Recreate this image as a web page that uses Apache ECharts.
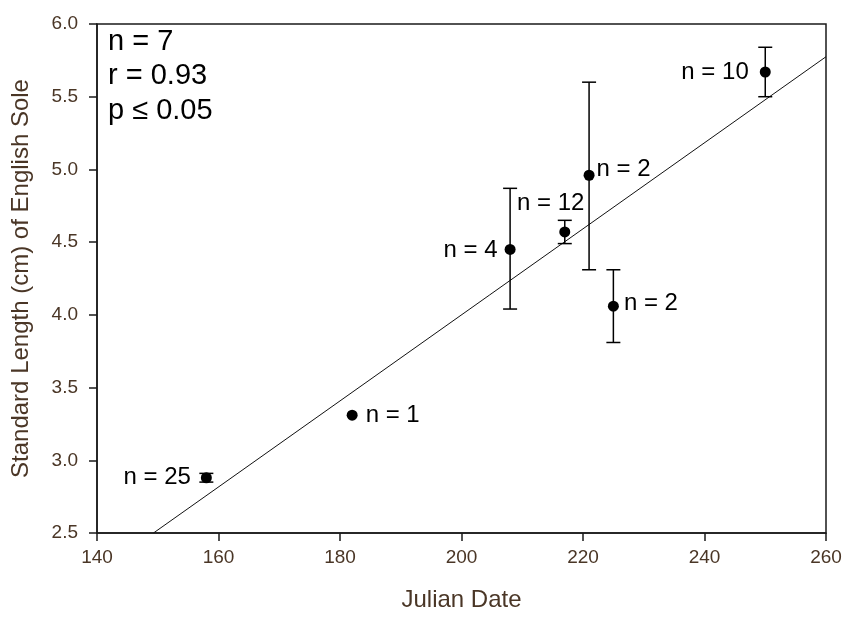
<!DOCTYPE html>
<html>
<head>
<meta charset="utf-8">
<script src="https://cdn.jsdelivr.net/npm/echarts@6/dist/echarts.min.js"></script>
<style>
  html, body { margin: 0; padding: 0; background: #fff; }
  #chart { width: 846px; height: 617px; }
</style>
</head>
<body>
<div id="chart"></div>
<script>
// ---- data ----
const julianDates = [158, 182, 208, 217, 221, 225, 250];
const meanLength  = [2.88, 3.31, 4.45, 4.57, 4.96, 4.06, 5.67];
const errLow      = [2.85, 3.31, 4.04, 4.49, 4.31, 3.81, 5.50];
const errHigh     = [2.91, 3.31, 4.87, 4.65, 5.60, 4.31, 5.84];
const sampleLabels = ['n = 25', 'n = 1', 'n = 4', 'n = 12', 'n = 2', 'n = 2', 'n = 10'];
const fitX = [149.3, 260];
const fitY = [2.5, 5.775];
const xTicks = [140, 160, 180, 200, 220, 240, 260];
const yTicks = [2.5, 3.0, 3.5, 4.0, 4.5, 5.0, 5.5, 6.0];
const statsLines = ['n = 7', 'r = 0.93', 'p \u2264 0.05'];

// ---- label placement (layout, not data) ----
const labelLayout = [
  { position: 'left',  distance: 10, offset: [0, 0] },
  { position: 'right', distance: 8,  offset: [0, 0] },
  { position: 'left',  distance: 7,  offset: [0, 1] },
  { position: 'top',   distance: 5,  offset: [-14, -6] },
  { position: 'right', distance: 2,  offset: [0, -6] },
  { position: 'right', distance: 5,  offset: [0, -3] },
  { position: 'left',  distance: 11, offset: [0, 0] }
];

const FONT = 'Arial, "Liberation Sans", sans-serif';
const AXIS_TEXT = '#4a3626';

const chart = echarts.init(document.getElementById('chart'), null, { renderer: 'canvas' });

const scatterData = julianDates.map((d, i) => ({
  value: [d, meanLength[i]],
  label: {
    show: true,
    formatter: sampleLabels[i],
    position: labelLayout[i].position,
    distance: labelLayout[i].distance,
    offset: labelLayout[i].offset,
    color: '#000',
    opacity: 1,
    fontSize: 24,
    fontFamily: FONT
  }
}));

const errorData = julianDates.map((d, i) => [d, errLow[i], errHigh[i]]);

const option = {
  animation: false,
  backgroundColor: '#fff',
  grid: {
    left: 97, right: 20, top: 24, bottom: 80,
    show: true, borderColor: '#1a1a1a', borderWidth: 1.5, backgroundColor: 'transparent'
  },
  xAxis: {
    type: 'value',
    min: xTicks[0], max: xTicks[xTicks.length - 1], interval: 20,
    name: 'Julian Date',
    nameLocation: 'middle',
    nameGap: 55,
    nameTextStyle: { color: AXIS_TEXT, fontSize: 24, fontFamily: FONT },
    axisLine: { show: true, onZero: false, lineStyle: { color: '#1a1a1a', width: 1.5 } },
    axisTick: { show: true, inside: false, length: 8, lineStyle: { color: '#1a1a1a', width: 1.5 } },
    axisLabel: { color: AXIS_TEXT, fontSize: 19, fontFamily: FONT, margin: 15,
      formatter: v => xTicks.includes(v) ? String(v) : '' },
    splitLine: { show: false }
  },
  yAxis: {
    type: 'value',
    min: yTicks[0], max: yTicks[yTicks.length - 1], interval: 0.5,
    name: 'Standard Length (cm) of English Sole',
    nameLocation: 'middle',
    nameGap: 64,
    nameTextStyle: { color: AXIS_TEXT, fontSize: 24, fontFamily: FONT },
    axisLine: { show: true, onZero: false, lineStyle: { color: '#1a1a1a', width: 1.5 } },
    axisTick: { show: true, inside: false, length: 8, lineStyle: { color: '#1a1a1a', width: 1.5 } },
    axisLabel: { color: AXIS_TEXT, fontSize: 19, fontFamily: FONT, margin: 19,
      formatter: v => v.toFixed(1) },
    splitLine: { show: false }
  },
  graphic: statsLines.map((t, i) => ({
    type: 'text',
    left: 108,
    top: 27 + i * 34.5,
    style: { text: t, fill: '#000', font: '29px ' + FONT },
    z: 10
  })),
  series: [
    {
      type: 'line',
      data: fitX.map((x, i) => [x, fitY[i]]),
      symbol: 'none',
      lineStyle: { color: '#111', width: 1 },
      silent: true,
      z: 1
    },
    {
      type: 'custom',
      data: errorData,
      encode: { x: 0, y: [1, 2] },
      renderItem: function (params, api) {
        const x = api.value(0);
        const lo = api.coord([x, api.value(1)]);
        const hi = api.coord([x, api.value(2)]);
        if (Math.abs(hi[1] - lo[1]) < 0.5) return null;
        const hw = 7;
        const style = { stroke: '#000', lineWidth: 1.5, fill: null };
        return {
          type: 'group',
          children: [
            { type: 'line', shape: { x1: lo[0], y1: lo[1], x2: hi[0], y2: hi[1] }, style: style },
            { type: 'line', shape: { x1: hi[0] - hw, y1: hi[1], x2: hi[0] + hw, y2: hi[1] }, style: style },
            { type: 'line', shape: { x1: lo[0] - hw, y1: lo[1], x2: lo[0] + hw, y2: lo[1] }, style: style }
          ]
        };
      },
      z: 2
    },
    {
      type: 'scatter',
      data: scatterData,
      symbol: 'circle',
      symbolSize: 11,
      itemStyle: { color: '#000', opacity: 1 },
      z: 3
    }
  ]
};

chart.setOption(option);
</script>
</body>
</html>
